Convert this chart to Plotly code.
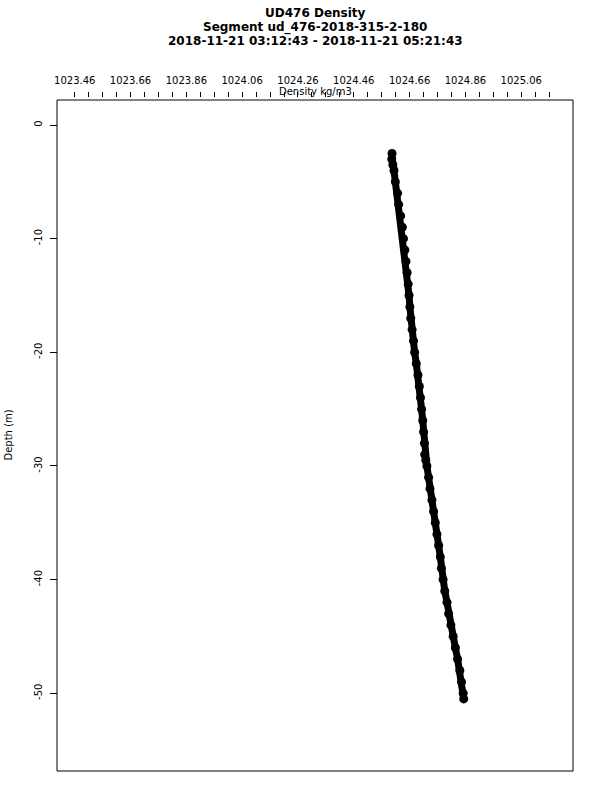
import plotly.graph_objects as go

# ---- data ----
depth_m = [-2.5, -3.0, -3.5, -4.0, -5.0, -6.0, -7.0, -8.0, -9.0, -10.0,
           -11.0, -12.0, -13.0, -14.0, -15.0, -16.0, -17.0, -18.0, -19.0, -20.0,
           -21.0, -22.0, -23.0, -24.0, -25.0, -26.0, -27.0, -28.0, -29.0, -29.5,
           -30.0, -31.0, -32.0, -33.0, -34.0, -35.0, -36.0, -37.0, -38.0, -39.0,
           -40.0, -41.0, -42.0, -43.0, -44.0, -45.0, -46.0, -47.0, -48.0, -49.0,
           -50.0, -50.5]
density = [1024.597, 1024.596, 1024.600, 1024.604, 1024.609, 1024.617, 1024.621, 1024.628, 1024.634, 1024.638,
           1024.643, 1024.647, 1024.651, 1024.655, 1024.658, 1024.661, 1024.664, 1024.669, 1024.674, 1024.678,
           1024.684, 1024.690, 1024.695, 1024.699, 1024.703, 1024.707, 1024.710, 1024.713, 1024.714, 1024.718,
           1024.722, 1024.728, 1024.733, 1024.740, 1024.746, 1024.752, 1024.758, 1024.764, 1024.770, 1024.774,
           1024.780, 1024.786, 1024.794, 1024.800, 1024.808, 1024.816, 1024.824, 1024.832, 1024.840, 1024.846,
           1024.852, 1024.854]

x_tick_vals = [round(1023.46 + 0.05 * k, 2) for k in range(35)]
x_tick_labels = ["1023.46", "1023.66", "1023.86", "1024.06", "1024.26",
                 "1024.46", "1024.66", "1024.86", "1025.06"]
y_tick_vals = [0, -10, -20, -30, -40, -50]
y_tick_labels = ["0", "-10", "-20", "-30", "-40", "-50"]

title_lines = ["UD476 Density",
               "Segment ud_476-2018-315-2-180",
               "2018-11-21 03:12:43 - 2018-11-21 05:21:43"]
x_title = "Density kg/m3"
y_title = "Depth (m)"

x_range = [1023.3965, 1025.2455]
y_range = [-56.84, 2.2]

FONT = "DejaVu Sans"
W, H = 600, 800
M_L, M_R, M_T, M_B = 57, 27, 97, 29
plot_h = H - M_T - M_B

x_ticktext = []
for v in x_tick_vals:
    s = f"{v:.2f}"
    x_ticktext.append(s if s in x_tick_labels else "")

fig = go.Figure()
fig.add_trace(go.Scatter(
    x=density, y=depth_m, mode="lines+markers",
    line=dict(color="black", width=7),
    marker=dict(color="black", size=9),
    showlegend=False, hoverinfo="skip"))

fig.update_layout(
    width=W, height=H,
    margin=dict(l=M_L, r=M_R, t=M_T, b=M_B, pad=0),
    paper_bgcolor="white", plot_bgcolor="white",
    font=dict(family=FONT, size=10, color="black"),
    xaxis=dict(range=x_range, side="top", anchor="free", position=1,
               tickmode="array", tickvals=x_tick_vals, ticktext=x_ticktext,
               ticks="outside", ticklen=5, tickwidth=1, tickcolor="black",
               showline=False, showgrid=False, zeroline=False,
               ticklabelstandoff=4, automargin=False,
               tickfont=dict(family=FONT, size=10, color="black")),
    yaxis=dict(range=y_range, domain=[0, (plot_h - 3) / plot_h],
               anchor="free", position=0,
               tickmode="array", tickvals=y_tick_vals, ticktext=y_tick_labels,
               ticks="outside", ticklen=7, tickwidth=1, tickcolor="black",
               tickangle=-90, ticklabelstandoff=4, automargin=False,
               showline=False, showgrid=False, zeroline=False,
               tickfont=dict(family=FONT, size=10, color="black")),
    shapes=[dict(type="rect", xref="x domain", yref="y domain",
                 x0=0, x1=1, y0=0, y1=1,
                 line=dict(color="black", width=1), fillcolor="rgba(0,0,0,0)")],
)

ann = []
for i, t in enumerate(title_lines):
    ann.append(dict(text=t, xref="paper", yref="paper", x=0.5, xanchor="center",
                    y=1 + (M_T - (13 + 14 * i)) / plot_h, yanchor="middle",
                    showarrow=False,
                    font=dict(family=FONT, size=12, color="black", weight="bold")))
ann.append(dict(text=x_title, xref="paper", yref="paper", x=0.5, xanchor="center",
                y=1 + (M_T - 91) / plot_h, yanchor="middle", showarrow=False,
                font=dict(family=FONT, size=10, color="black")))
ann.append(dict(text=y_title, xref="paper", yref="y domain", x=-(M_L - 8) / (W - M_L - M_R),
                xanchor="center", y=0.5, yanchor="middle", textangle=-90,
                showarrow=False, font=dict(family=FONT, size=10, color="black")))
fig.update_layout(annotations=ann)

fig.write_html("out.html", config={"displayModeBar": False},
               post_script="document.body.style.margin='0';")
